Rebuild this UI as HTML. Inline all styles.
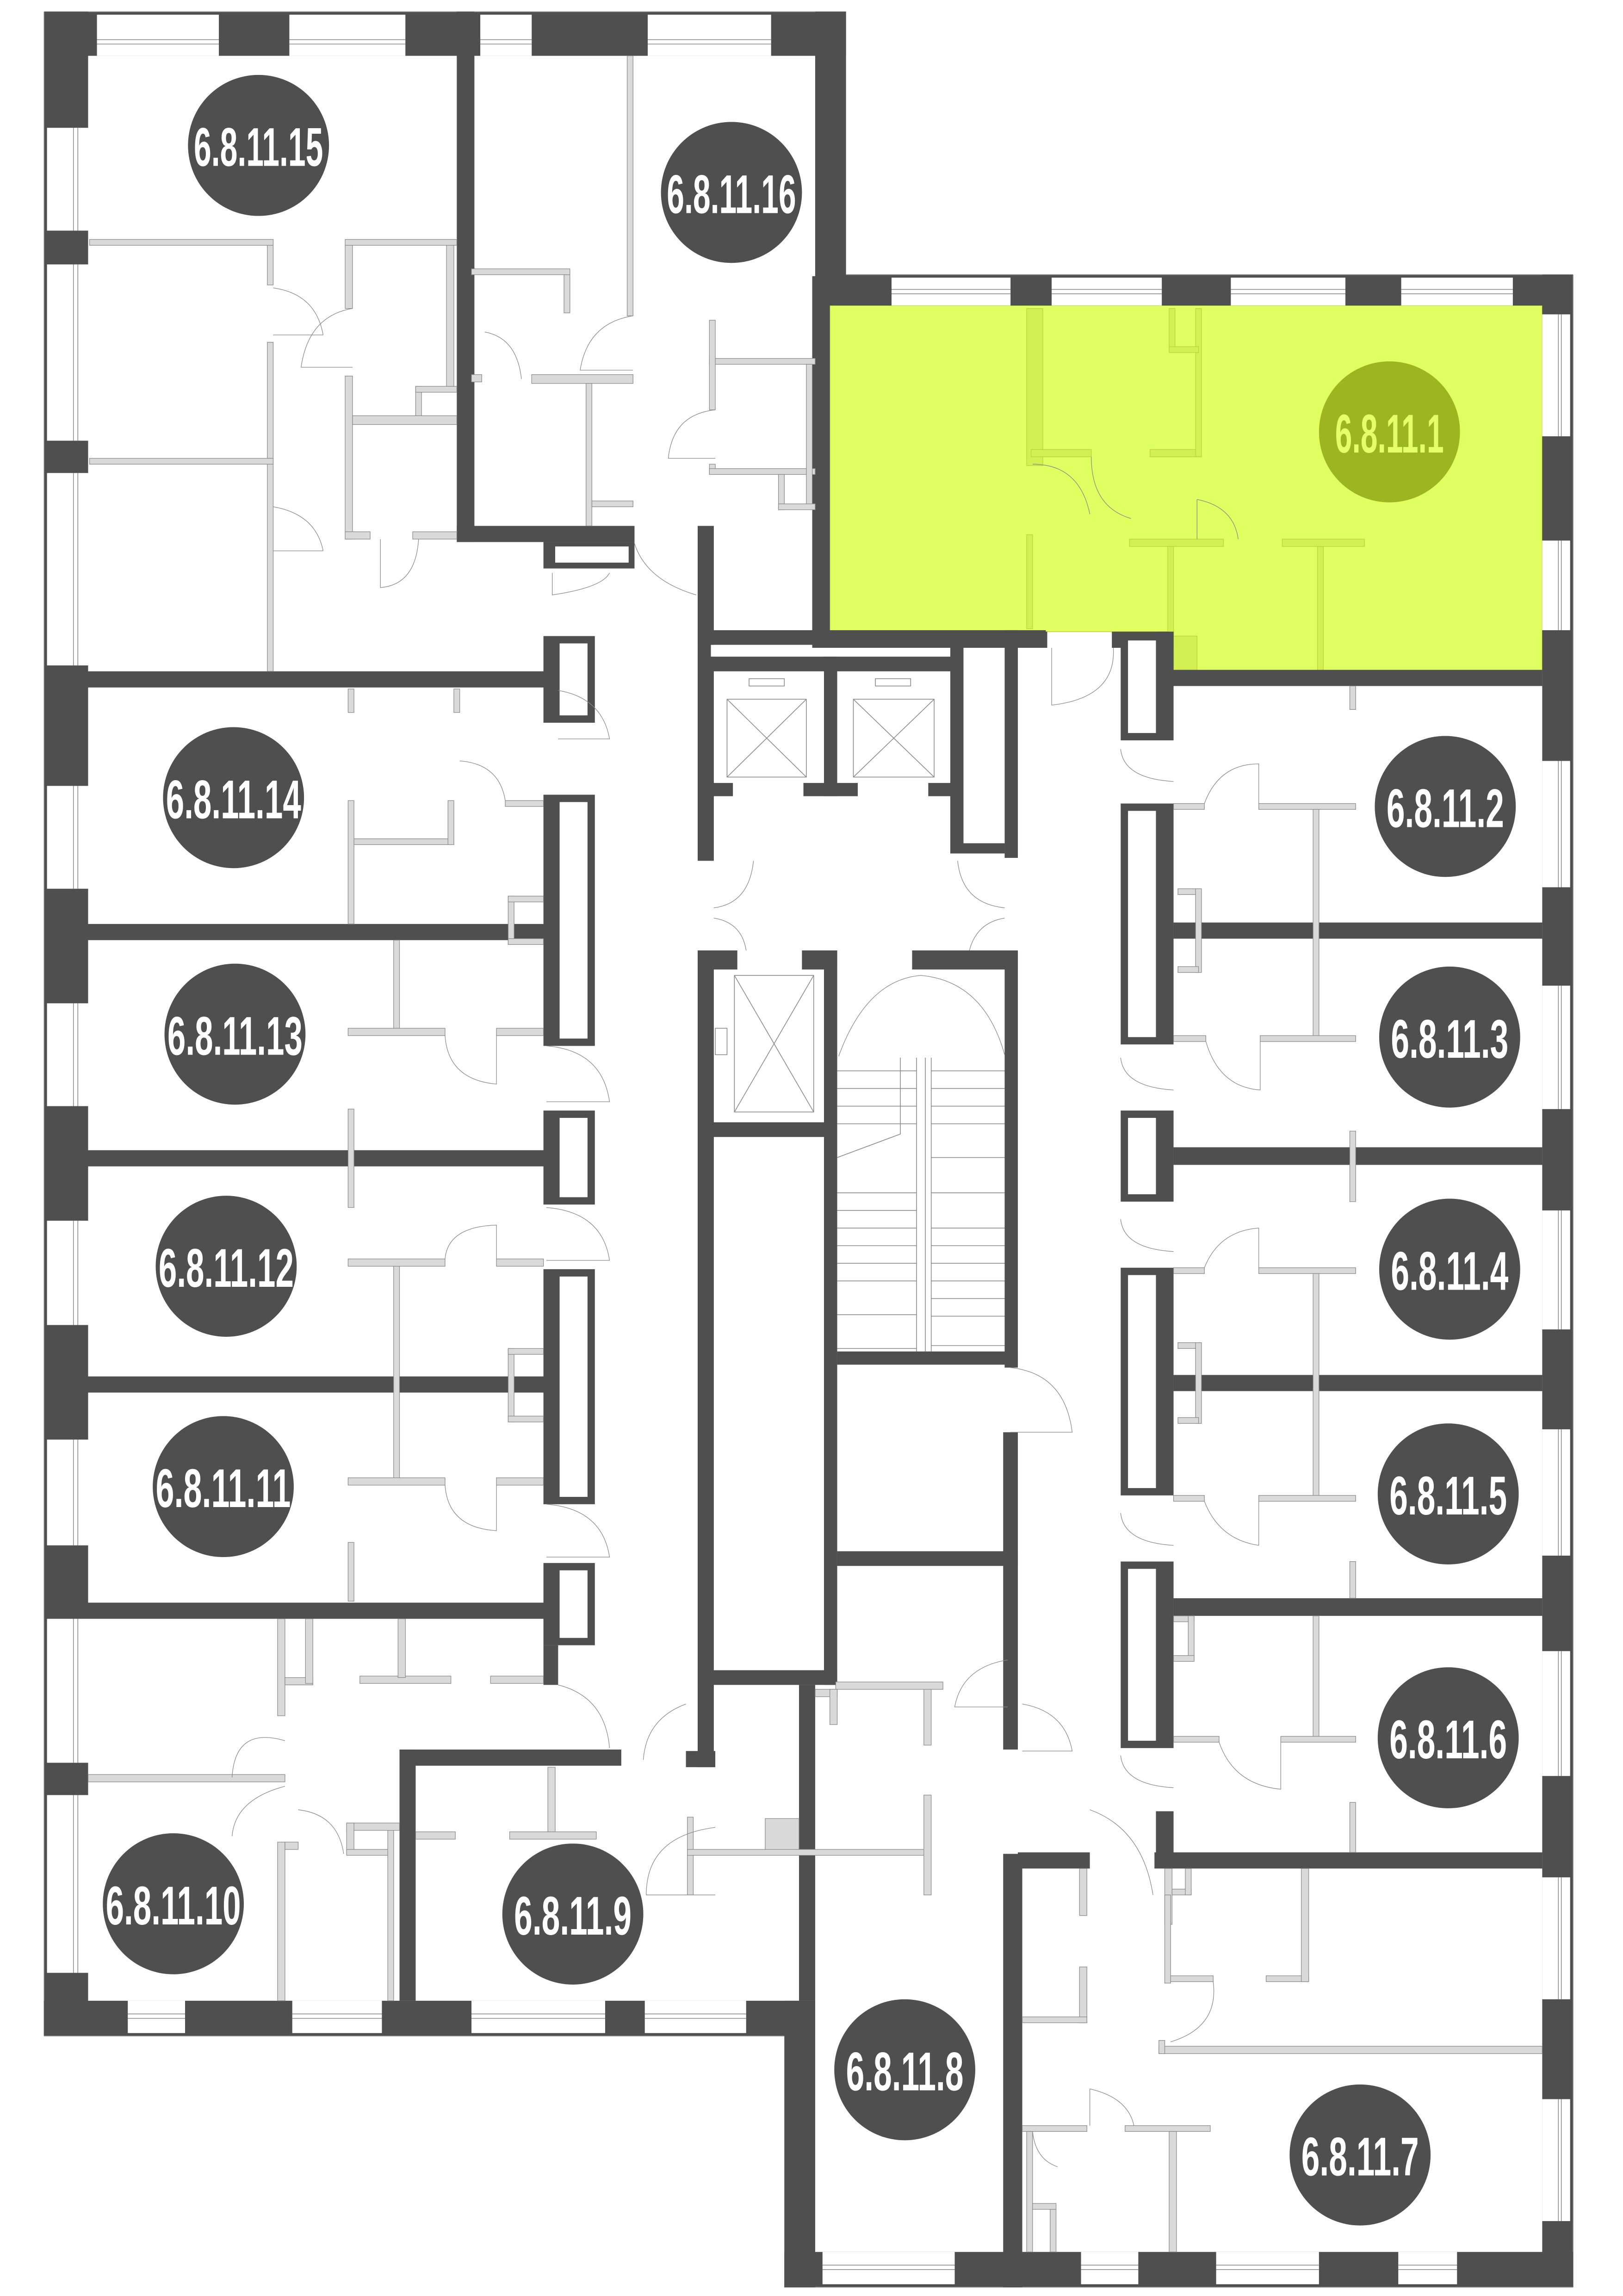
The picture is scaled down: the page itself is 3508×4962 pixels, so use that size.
<!DOCTYPE html>
<html><head><meta charset="utf-8"><style>
html,body{margin:0;padding:0;background:#fff}
svg{display:block}
.w{fill:#4f4f4f}
.p{fill:#dadada;stroke:#8a8a8a;stroke-width:0.4}
.gp{fill:#d3ef52;stroke:#b7d43a;stroke-width:0.4}
.win{fill:#fff}
.ln{stroke:#8a8a8a;stroke-width:0.5;fill:none}
.arc{stroke:#8a8a8a;stroke-width:0.4;fill:none}
.t{font-family:"Liberation Sans Narrow","Liberation Sans",sans-serif;font-size:37px;font-weight:bold;fill:#fff;text-anchor:middle}
</style></head><body>
<svg width="3508" height="4962" viewBox="0 0 1105 1563" preserveAspectRatio="none" xmlns="http://www.w3.org/2000/svg">
<rect x="0" y="0" width="1105" height="1563" fill="#fff"/>

<path d="M565 208 H1050 V457 H799 V430 H565 Z" fill="#e0ff60" stroke="#c4e040" stroke-width="0.6"/>
<rect class="gp" x="699" y="210" width="11" height="107"/>
<rect class="gp" x="702" y="306" width="41" height="5"/>
<rect class="gp" x="783" y="306" width="35" height="5"/>
<rect class="gp" x="814" y="210" width="4" height="101"/>
<rect class="gp" x="796" y="210" width="4" height="30"/>
<rect class="gp" x="796" y="236" width="20" height="4"/>
<rect class="gp" x="699" y="364" width="4" height="64"/>
<rect class="gp" x="769" y="367" width="64" height="5"/>
<rect class="gp" x="795" y="372" width="4" height="85"/>
<rect class="gp" x="873" y="367" width="56" height="5"/>
<rect class="gp" x="897" y="372" width="4" height="85"/>
<rect class="gp" x="799" y="433" width="16" height="24"/>
<path class="arc" d="M743 311 Q743 345 770 353"/>
<path class="arc" d="M703 316 Q735 316 742 350 "/>
<path class="arc" d="M815 340 V367 M815 340 Q840 345 843 367"/>

<rect class="w" x="30" y="8" width="546" height="30"/>
<g class="win">
<rect x="66" y="10" width="83" height="28"/><rect x="197" y="10" width="79" height="28"/>
<rect x="327" y="10" width="35" height="28"/><rect x="441" y="10" width="84" height="28"/>
</g>
<path class="ln" d="M66 27 H149 M66 30 H149 M197 27 H276 M197 30 H276 M327 27 H362 M327 30 H362 M441 27 H525 M441 30 H525 M30 8 H576"/>
<rect class="w" x="30" y="8" width="30" height="1378"/>
<g class="win">
<rect x="32" y="87" width="28" height="70"/><rect x="32" y="180" width="28" height="120"/>
<rect x="32" y="322" width="28" height="131"/><rect x="32" y="535" width="28" height="70"/>
<rect x="32" y="683" width="28" height="70"/><rect x="32" y="831" width="28" height="71"/>
<rect x="32" y="980" width="28" height="72"/><rect x="32" y="1102" width="28" height="98"/>
<rect x="32" y="1222" width="28" height="121"/>
</g>
<path class="ln" d="M30 8 V1386 M50 87 V157 M53 87 V157 M50 180 V300 M53 180 V300 M50 322 V453 M53 322 V453 M50 535 V605 M53 535 V605 M50 683 V753 M53 683 V753 M50 831 V902 M53 831 V902 M50 980 V1052 M53 980 V1052 M50 1102 V1200 M53 1102 V1200 M50 1222 V1343 M53 1222 V1343"/>
<rect class="w" x="30" y="1362" width="525" height="24"/>
<g class="win"><rect x="87" y="1362" width="39" height="22"/><rect x="199" y="1362" width="61" height="22"/><rect x="321" y="1362" width="91" height="22"/><rect x="439" y="1362" width="69" height="22"/></g>
<path class="ln" d="M87 1371 H126 M87 1374 H126 M199 1371 H260 M199 1374 H260 M321 1371 H412 M321 1374 H412 M439 1371 H508 M439 1374 H508 M30 1386 H534"/>
<rect class="w" x="555" y="187" width="516" height="21"/>
<g class="win"><rect x="607" y="189" width="81" height="19"/><rect x="716" y="189" width="75" height="19"/><rect x="838" y="189" width="78" height="19"/><rect x="954" y="189" width="76" height="19"/></g>
<path class="ln" d="M607 197 H688 M607 200 H688 M716 197 H791 M716 200 H791 M838 197 H916 M838 200 H916 M954 197 H1030 M954 200 H1030 M576 187 H1071"/>
<rect class="w" x="1050" y="187" width="21" height="1370"/>
<g class="win">
<rect x="1050" y="214" width="19" height="83"/><rect x="1050" y="368" width="19" height="61"/>
<rect x="1050" y="518" width="19" height="86"/><rect x="1050" y="671" width="19" height="84"/>
<rect x="1050" y="824" width="19" height="81"/><rect x="1050" y="973" width="19" height="86"/>
<rect x="1050" y="1124" width="19" height="85"/><rect x="1050" y="1278" width="19" height="83"/>
<rect x="1050" y="1429" width="19" height="83"/>
</g>
<path class="ln" d="M1071 187 V1557 M1061 214 V297 M1063 214 V297 M1061 368 V429 M1063 368 V429 M1061 518 V604 M1063 518 V604 M1061 671 V755 M1063 671 V755 M1061 824 V905 M1063 824 V905 M1061 973 V1059 M1063 973 V1059 M1061 1124 V1209 M1063 1124 V1209 M1061 1278 V1361 M1063 1278 V1361 M1061 1429 V1512 M1063 1429 V1512"/>
<rect class="w" x="534" y="1533" width="537" height="24"/>
<g class="win"><rect x="560" y="1533" width="90" height="22"/><rect x="736" y="1533" width="39" height="22"/><rect x="828" y="1533" width="70" height="22"/><rect x="952" y="1533" width="40" height="22"/></g>
<path class="ln" d="M560 1542 H650 M560 1545 H650 M736 1542 H775 M736 1545 H775 M828 1542 H898 M828 1545 H898 M952 1542 H992 M952 1545 H992 M534 1557 H1071"/>

<rect class="w" x="311" y="8" width="12" height="361"/>
<rect class="w" x="311" y="358" width="121" height="11"/>
<rect class="w" x="370" y="369" width="62" height="18"/><rect fill="#fff" x="378" y="372" width="50" height="11"/>
<rect class="w" x="555" y="8" width="21" height="180"/>
<rect class="w" x="553" y="188" width="12" height="243"/>
<rect class="w" x="60" y="457" width="312" height="11"/>
<rect class="w" x="60" y="629" width="312" height="11"/>
<rect class="w" x="60" y="783" width="312" height="11"/>
<rect class="w" x="60" y="937" width="312" height="11"/>
<rect class="w" x="60" y="1091" width="312" height="11"/>
<g>
<rect class="w" x="370" y="433" width="35" height="59"/><rect fill="#fff" x="381" y="438" width="19" height="49"/>
<rect class="w" x="370" y="541" width="35" height="171"/><rect fill="#fff" x="381" y="546" width="19" height="161"/>
<rect class="w" x="370" y="756" width="35" height="64"/><rect fill="#fff" x="381" y="761" width="19" height="54"/>
<rect class="w" x="370" y="864" width="35" height="160"/><rect fill="#fff" x="381" y="869" width="19" height="150"/>
<rect class="w" x="370" y="1064" width="35" height="56"/><rect fill="#fff" x="381" y="1069" width="19" height="46"/>
<rect class="w" x="370" y="1120" width="10" height="27"/>
</g>
<rect class="w" x="272" y="1191" width="151" height="11"/>
<rect class="w" x="272" y="1191" width="11" height="171"/>
<rect class="w" x="467" y="1192" width="20" height="11"/>

<rect class="w" x="475" y="358" width="11" height="228"/>
<rect class="w" x="475" y="647" width="11" height="556"/>

<rect class="w" x="475" y="429" width="237" height="10"/>
<rect class="w" x="475" y="447" width="172" height="10"/>
<rect fill="#fff" x="484" y="439" width="163" height="8"/>
<rect class="w" x="561" y="447" width="9" height="95"/>
<rect class="w" x="484" y="533" width="15" height="9"/>
<rect class="w" x="547" y="533" width="37" height="9"/>
<rect class="w" x="632" y="533" width="19" height="9"/>
<rect class="w" x="647" y="439" width="9" height="142"/>
<rect class="w" x="684" y="429" width="9" height="155"/>
<rect class="w" x="647" y="574" width="37" height="7"/>
<g class="ln">
<rect x="495" y="476" width="54" height="53"/><path d="M495 476 L549 529 M549 476 L495 529"/>
<rect x="581" y="476" width="55" height="53"/><path d="M581 476 L636 529 M636 476 L581 529"/>
<rect x="510" y="462" width="24" height="5"/><rect x="596" y="462" width="24" height="5"/>
<rect x="500" y="664" width="54" height="93"/><path d="M500 664 L554 757 M554 664 L500 757"/>
<rect x="487" y="700" width="8" height="18"/>
</g>
<rect class="w" x="475" y="647" width="27" height="13"/>
<rect class="w" x="546" y="647" width="24" height="13"/>
<rect class="w" x="484" y="764" width="77" height="10"/>
<rect class="w" x="561" y="647" width="9" height="500"/>
<rect class="w" x="475" y="1137" width="95" height="10"/>
<rect class="w" x="621" y="647" width="72" height="13"/>
<rect class="w" x="684" y="647" width="9" height="284"/>
<rect class="w" x="570" y="920" width="123" height="9"/>
<rect class="w" x="570" y="1056" width="123" height="10"/>
<rect class="w" x="683" y="975" width="10" height="216"/>
<rect class="w" x="544" y="1147" width="11" height="215"/>
<rect class="w" x="534" y="1362" width="21" height="195"/>
<rect class="w" x="683" y="1262" width="13" height="295"/>
<g class="ln">
<path d="M570 729 H624 M570 741 H624 M570 753 H624 M570 765 H624 M570 812 H624 M570 824 H624 M570 836 H624 M570 848 H624 M570 860 H624 M570 872 H624 M570 895 H624 M570 918 H624"/>
<path d="M634 729 H684 M634 741 H684 M634 753 H684 M634 765 H684 M634 788 H684 M634 812 H684 M634 836 H684 M634 848 H684 M634 860 H684 M634 872 H684 M634 884 H684 M634 896 H684 M634 916 H684"/>
<path d="M624 720 V920 M630 720 V920 M634 720 V920 M613 720 V772 L570 788"/>
<path class="arc" d="M571 719 Q590 667 627 664 Q670 668 684 718"/>
</g>
<rect fill="#fff" x="656" y="439" width="28" height="135"/>

<rect class="w" x="553" y="430" width="160" height="11"/>
<rect class="w" x="757" y="430" width="42" height="11"/>
<rect class="w" x="788" y="430" width="11" height="38"/>
<rect class="w" x="782" y="456" width="268" height="11"/>
<rect class="w" x="799" y="628" width="251" height="11"/>
<rect class="w" x="799" y="781" width="251" height="12"/>
<rect class="w" x="799" y="936" width="251" height="11"/>
<rect class="w" x="799" y="1088" width="251" height="12"/>
<rect class="w" x="786" y="1261" width="264" height="11"/>
<rect class="w" x="693" y="1261" width="49" height="11"/>
<g>
<rect class="w" x="763" y="431" width="36" height="73"/><rect fill="#fff" x="768" y="436" width="19" height="63"/>
<rect class="w" x="763" y="547" width="36" height="164"/><rect fill="#fff" x="768" y="552" width="19" height="154"/>
<rect class="w" x="763" y="756" width="36" height="62"/><rect fill="#fff" x="768" y="761" width="19" height="52"/>
<rect class="w" x="763" y="863" width="36" height="155"/><rect fill="#fff" x="768" y="868" width="19" height="145"/>
<rect class="w" x="763" y="1063" width="36" height="127"/><rect fill="#fff" x="768" y="1068" width="19" height="117"/>
<rect class="w" x="787" y="1233" width="12" height="29"/>
</g>

<g class="p">
<rect x="61" y="163" width="125" height="4"/><rect x="182" y="167" width="4" height="27"/>
<rect x="182" y="233" width="4" height="224"/><rect x="61" y="312" width="125" height="4"/>
<rect x="235" y="163" width="76" height="4"/><rect x="235" y="167" width="5" height="43"/>
<rect x="235" y="256" width="5" height="111"/><rect x="235" y="362" width="17" height="5"/><rect x="281" y="362" width="30" height="5"/>
<rect x="240" y="283" width="71" height="6"/><rect x="283" y="263" width="4" height="20"/><rect x="283" y="263" width="28" height="4"/><rect x="304" y="167" width="5" height="96"/>
<rect x="427" y="38" width="4" height="177"/>
<rect x="321" y="183" width="67" height="4"/><rect x="384" y="187" width="4" height="26"/>
<rect x="362" y="255" width="69" height="6"/><rect x="399" y="261" width="4" height="97"/><rect x="403" y="341" width="28" height="4"/>
<rect x="483" y="244" width="72" height="4"/><rect x="483" y="218" width="4" height="61"/>
<rect x="483" y="316" width="4" height="7"/><rect x="483" y="319" width="72" height="4"/><rect x="530" y="323" width="4" height="24"/><rect x="530" y="343" width="25" height="4"/><rect x="549" y="248" width="4" height="95"/>
<rect x="321" y="255" width="7" height="5"/>
<rect x="237" y="469" width="4" height="16"/><rect x="309" y="469" width="4" height="16"/>
<rect x="237" y="545" width="4" height="84"/><rect x="241" y="571" width="68" height="4"/><rect x="305" y="545" width="4" height="30"/>
<rect x="344" y="545" width="26" height="4"/>
<rect x="346" y="610" width="4" height="33"/><rect x="346" y="610" width="24" height="4"/><rect x="346" y="639" width="24" height="4"/>
<rect x="268" y="640" width="4" height="60"/><rect x="237" y="700" width="66" height="5"/><rect x="338" y="700" width="32" height="5"/>
<rect x="237" y="755" width="4" height="67"/>
<rect x="237" y="857" width="66" height="5"/><rect x="338" y="857" width="32" height="5"/><rect x="268" y="862" width="4" height="148"/>
<rect x="346" y="918" width="4" height="50"/><rect x="346" y="918" width="24" height="4"/><rect x="346" y="964" width="24" height="4"/>
<rect x="237" y="1006" width="66" height="5"/><rect x="338" y="1006" width="32" height="5"/>
<rect x="237" y="1050" width="4" height="40"/>
<rect x="189" y="1102" width="5" height="66"/><rect x="194" y="1142" width="19" height="5"/><rect x="208" y="1102" width="5" height="44"/>
<rect x="245" y="1141" width="62" height="5"/><rect x="271" y="1102" width="5" height="40"/><rect x="334" y="1141" width="36" height="5"/>
<rect x="60" y="1208" width="134" height="5"/>
<rect x="189" y="1254" width="5" height="108"/><rect x="194" y="1254" width="9" height="5"/>
<rect x="236" y="1241" width="36" height="5"/><rect x="236" y="1241" width="5" height="20"/><rect x="236" y="1259" width="30" height="4"/><rect x="264" y="1246" width="4" height="116"/>
<rect x="283" y="1247" width="27" height="5"/><rect x="347" y="1247" width="59" height="5"/><rect x="373" y="1203" width="5" height="44"/>
<rect x="468" y="1237" width="4" height="53"/><rect x="468" y="1259" width="162" height="4"/><rect x="521" y="1238" width="23" height="21"/>
<rect x="629" y="1222" width="5" height="68"/><rect x="629" y="1150" width="5" height="38"/><rect x="569" y="1145" width="73" height="5"/>
<rect x="555" y="1150" width="15" height="5"/><rect x="565" y="1150" width="5" height="24"/>
<rect x="919" y="467" width="4" height="16"/>
<rect x="799" y="547" width="21" height="4"/><rect x="857" y="547" width="66" height="4"/><rect x="894" y="551" width="4" height="155"/>
<rect x="799" y="705" width="22" height="4"/><rect x="858" y="705" width="65" height="4"/>
<rect x="802" y="605" width="14" height="4"/><rect x="814" y="605" width="4" height="57"/><rect x="802" y="658" width="14" height="4"/>
<rect x="919" y="770" width="4" height="48"/>
<rect x="799" y="863" width="21" height="4"/><rect x="857" y="863" width="66" height="4"/><rect x="894" y="867" width="4" height="152"/>
<rect x="799" y="1018" width="21" height="4"/><rect x="857" y="1018" width="66" height="4"/>
<rect x="802" y="914" width="14" height="4"/><rect x="814" y="914" width="4" height="55"/><rect x="802" y="965" width="14" height="4"/>
<rect x="919" y="1063" width="4" height="25"/>
<rect x="894" y="1100" width="4" height="84"/><rect x="799" y="1182" width="31" height="4"/><rect x="872" y="1182" width="51" height="4"/>
<rect x="799" y="1100" width="14" height="4"/><rect x="809" y="1100" width="4" height="30"/><rect x="799" y="1127" width="14" height="4"/>
<rect x="919" y="1227" width="4" height="34"/>
<rect x="735" y="1272" width="5" height="32"/><rect x="735" y="1339" width="5" height="38"/><rect x="696" y="1373" width="44" height="4"/>
<rect x="793" y="1272" width="5" height="38"/><rect x="798" y="1286" width="13" height="4"/><rect x="807" y="1272" width="4" height="18"/>
<rect x="793" y="1290" width="4" height="60"/><rect x="797" y="1345" width="29" height="4"/><rect x="862" y="1345" width="29" height="4"/><rect x="886" y="1272" width="5" height="77"/>
<rect x="789" y="1393" width="261" height="5"/><rect x="789" y="1389" width="4" height="9"/>
<rect x="696" y="1447" width="44" height="4"/><rect x="766" y="1447" width="58" height="4"/><rect x="796" y="1451" width="5" height="82"/>
<rect x="699" y="1451" width="4" height="82"/><rect x="703" y="1500" width="16" height="4"/><rect x="715" y="1504" width="4" height="29"/>
</g>

<g class="arc">
<path d="M186 196 Q215 200 220 228 M186 228 H220"/>
<path d="M186 345 Q215 350 220 375 M186 375 H220"/>
<path d="M240 210 Q210 215 205 250 H240"/>
<path d="M259 367 V400 Q283 398 285 367"/>
<path d="M376 390 V405 Q410 400 415 390"/>
<path d="M431 215 Q400 220 395 252 H431"/>
<path d="M487 279 Q458 282 455 312 H487"/>
<path d="M432 370 Q440 395 474 405"/>
<path d="M330 226 Q352 230 355 258"/>
<path d="M380 470 Q410 475 415 503 H380"/>
<path d="M313 518 Q340 520 344 545"/>
<path d="M372 712 Q410 715 415 750 H372"/>
<path d="M303 705 Q305 735 338 738 V705"/>
<path d="M372 822 Q410 825 415 858 H372"/>
<path d="M303 857 Q305 835 338 834 V857"/>
<path d="M372 1024 Q410 1027 415 1060 H372"/>
<path d="M303 1011 Q305 1040 338 1042 V1011"/>
<path d="M380 1147 Q412 1155 415 1190"/>
<path d="M194 1185 Q160 1175 158 1210 M194 1216 Q160 1225 158 1250"/>
<path d="M203 1232 Q230 1235 234 1262"/>
<path d="M467 1160 Q440 1170 438 1198"/>
<path d="M487 1244 Q440 1250 440 1290 H487"/>
<path d="M513 586 Q510 615 486 618 M486 625 Q505 628 508 647"/>
<path d="M652 586 Q655 615 684 618 M684 625 Q665 628 660 647"/>
<path d="M688 931 Q725 935 730 975 H688"/>
<path d="M758 441 Q760 475 716 480 V441"/>
<path d="M763 510 Q765 530 799 532 M763 720 Q765 740 799 742 M763 830 Q765 850 799 852 M763 1030 Q765 1050 799 1052 M763 1195 Q765 1215 799 1217"/>
<path d="M820 547 Q830 520 857 520 V547"/>
<path d="M821 709 Q830 740 858 742 V709"/>
<path d="M820 863 Q830 838 857 836 V863"/>
<path d="M820 1022 Q830 1048 857 1052 V1022"/>
<path d="M830 1186 Q840 1215 872 1218 V1186"/>
<path d="M686 1130 Q655 1135 650 1162 H686"/>
<path d="M696 1160 Q725 1165 730 1192 H696"/>
<path d="M742 1232 Q778 1245 785 1290"/>
<path d="M826 1349 Q830 1380 797 1390"/>
<path d="M742 1422 Q768 1428 772 1447 M742 1422 V1447"/>
<path d="M703 1451 Q705 1470 720 1475"/>
</g>

<g>
<circle cx="176" cy="99" r="48" fill="#4f4f4f"/><text class="t" x="176" y="113" textLength="88" lengthAdjust="spacingAndGlyphs">6.8.11.15</text>
<circle cx="498" cy="131" r="48" fill="#4f4f4f"/><text class="t" x="498" y="145" textLength="88" lengthAdjust="spacingAndGlyphs">6.8.11.16</text>
<circle cx="946" cy="294" r="48" fill="#9cb520"/><text class="t" x="946" y="308" textLength="74" lengthAdjust="spacingAndGlyphs" style="fill:#e4ff6a">6.8.11.1</text>
<circle cx="159" cy="543" r="48" fill="#4f4f4f"/><text class="t" x="159" y="557" textLength="92" lengthAdjust="spacingAndGlyphs">6.8.11.14</text>
<circle cx="160" cy="704" r="48" fill="#4f4f4f"/><text class="t" x="160" y="718" textLength="92" lengthAdjust="spacingAndGlyphs">6.8.11.13</text>
<circle cx="154" cy="862" r="48" fill="#4f4f4f"/><text class="t" x="154" y="876" textLength="92" lengthAdjust="spacingAndGlyphs">6.8.11.12</text>
<circle cx="152" cy="1012" r="48" fill="#4f4f4f"/><text class="t" x="152" y="1026" textLength="92" lengthAdjust="spacingAndGlyphs">6.8.11.11</text>
<circle cx="118" cy="1296" r="48" fill="#4f4f4f"/><text class="t" x="118" y="1310" textLength="92" lengthAdjust="spacingAndGlyphs">6.8.11.10</text>
<circle cx="390" cy="1303" r="48" fill="#4f4f4f"/><text class="t" x="390" y="1317" textLength="80" lengthAdjust="spacingAndGlyphs">6.8.11.9</text>
<circle cx="616" cy="1409" r="48" fill="#4f4f4f"/><text class="t" x="616" y="1423" textLength="80" lengthAdjust="spacingAndGlyphs">6.8.11.8</text>
<circle cx="926" cy="1467" r="48" fill="#4f4f4f"/><text class="t" x="926" y="1481" textLength="80" lengthAdjust="spacingAndGlyphs">6.8.11.7</text>
<circle cx="986" cy="1183" r="48" fill="#4f4f4f"/><text class="t" x="986" y="1197" textLength="80" lengthAdjust="spacingAndGlyphs">6.8.11.6</text>
<circle cx="986" cy="1017" r="48" fill="#4f4f4f"/><text class="t" x="986" y="1031" textLength="80" lengthAdjust="spacingAndGlyphs">6.8.11.5</text>
<circle cx="987" cy="864" r="48" fill="#4f4f4f"/><text class="t" x="987" y="878" textLength="80" lengthAdjust="spacingAndGlyphs">6.8.11.4</text>
<circle cx="987" cy="706" r="48" fill="#4f4f4f"/><text class="t" x="987" y="720" textLength="80" lengthAdjust="spacingAndGlyphs">6.8.11.3</text>
<circle cx="984" cy="549" r="48" fill="#4f4f4f"/><text class="t" x="984" y="563" textLength="80" lengthAdjust="spacingAndGlyphs">6.8.11.2</text>
</g>
</svg>
</body></html>
